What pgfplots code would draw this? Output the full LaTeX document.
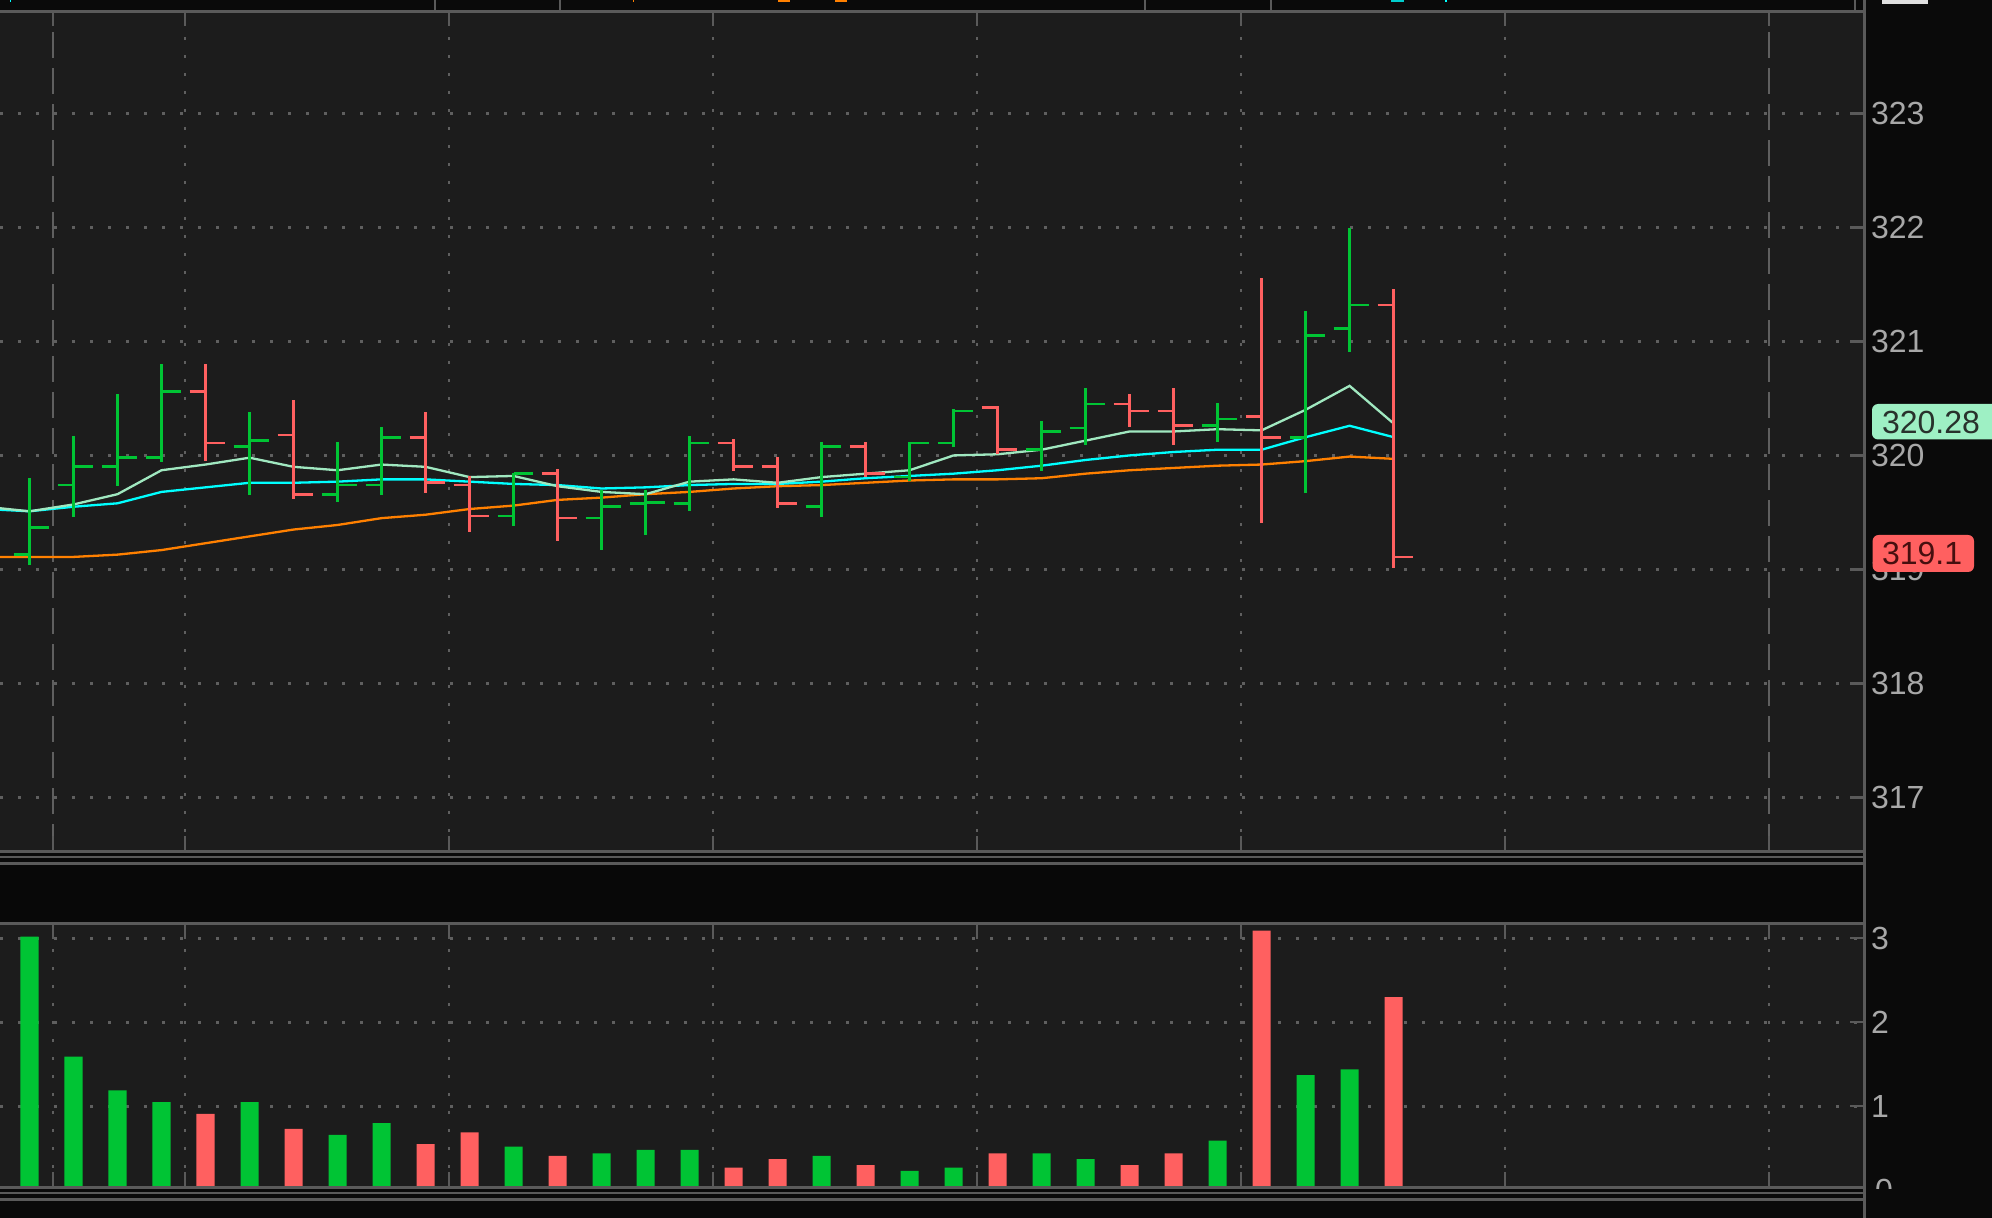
\documentclass[border=0pt]{standalone}
\usepackage{fontspec}
\setmainfont{Liberation Sans}
\usepackage{pgfplots}
\usepackage{pgfplotstable}
\pgfplotsset{compat=1.18}

\definecolor{outerbg}{RGB}{10,10,10}
\definecolor{stripbg}{RGB}{8,8,8}
\definecolor{plotbg}{RGB}{28,28,28}
\definecolor{bordc}{RGB}{90,90,90}
\definecolor{gridc}{RGB}{95,95,95}
\definecolor{upg}{RGB}{0,196,52}
\definecolor{dnr}{RGB}{255,96,96}
\definecolor{mintc}{RGB}{160,232,192}
\definecolor{cyanc}{RGB}{0,255,255}
\definecolor{orangec}{RGB}{255,128,0}
\definecolor{labelc}{RGB}{168,168,168}
\definecolor{mintbox}{RGB}{158,240,196}
\definecolor{redbox}{RGB}{255,96,96}
\definecolor{mintboxtext}{RGB}{40,50,44}
\definecolor{redboxtext}{RGB}{70,15,15}

\newcommand{\lblfont}{\fontsize{16}{19}\selectfont}

\pgfdeclareplotmark{ohlcopen}{\pgfpathmoveto{\pgfqpoint{-8pt}{0pt}}\pgfpathlineto{\pgfqpoint{0pt}{0pt}}\pgfusepathqstroke}
\pgfdeclareplotmark{ohlcclose}{\pgfpathmoveto{\pgfqpoint{0pt}{0pt}}\pgfpathlineto{\pgfqpoint{9.6pt}{0pt}}\pgfusepathqstroke}

% OHLC bars, x = bar index
\pgfplotstableread{
x o h l c
0 319.13 319.80 319.04 319.37
1 319.74 320.17 319.46 319.90
2 319.90 320.54 319.73 319.98
3 319.98 320.80 319.94 320.56
5 320.08 320.38 319.65 320.13
7 319.66 320.12 319.59 319.74
8 319.74 320.25 319.65 320.16
11 319.47 319.85 319.38 319.84
13 319.45 319.70 319.17 319.55
14 319.58 319.70 319.30 319.59
15 319.58 320.17 319.51 320.11
18 319.55 320.12 319.46 320.08
20 319.81 320.12 319.78 320.11
21 320.11 320.41 320.07 320.39
23 320.05 320.30 319.86 320.21
24 320.24 320.59 320.09 320.45
27 320.26 320.46 320.12 320.32
29 320.16 321.27 319.67 321.05
30 321.11 321.99 320.91 321.32
}\upbars

\pgfplotstableread{
x o h l c
-1 319.16 319.16 319.16 319.16
4 320.56 320.80 319.95 320.11
6 320.18 320.49 319.62 319.66
9 320.16 320.38 319.67 319.76
10 319.74 319.82 319.33 319.47
12 319.84 319.88 319.25 319.45
16 320.11 320.14 319.86 319.90
17 319.90 319.99 319.54 319.58
19 320.08 320.12 319.81 319.84
22 320.42 320.43 320.01 320.05
25 320.45 320.54 320.25 320.39
26 320.39 320.59 320.09 320.26
28 320.34 321.56 319.41 320.16
31 321.32 321.46 319.01 319.11
}\dnbars

\pgfplotstableread{
x v
0 3.02
1 1.59
2 1.19
3 1.05
5 1.05
7 0.66
8 0.80
11 0.52
13 0.44
14 0.48
15 0.48
18 0.41
20 0.23
21 0.27
23 0.44
24 0.37
27 0.59
29 1.37
30 1.44
}\upvol

\pgfplotstableread{
x v
4 0.91
6 0.73
9 0.55
10 0.69
12 0.41
16 0.27
17 0.37
19 0.30
22 0.44
25 0.30
26 0.44
28 3.09
31 2.30
}\dnvol

\pgfplotsset{
  panel/.style={
    scale only axis, width=932pt,
    xmin=-0.6705, xmax=41.69,
    axis background/.style={fill=plotbg},
    axis line style={draw=none},
    clip marker paths=true,
    ytick pos=right, yticklabel pos=right,
    tick align=inside, major tick length=7pt,
    tick style={draw=bordc, line width=1.2pt, solid},
    grid=major,
    major grid style={draw=gridc, line width=1.3pt, dash pattern=on 1.3pt off 7.7pt},
    yticklabel style={font=\lblfont, text=labelc},
    /pgf/number format/assume math mode=true,
  }
}

\begin{document}
\begin{tikzpicture}
\useasboundingbox (0,0) rectangle (996pt,-609pt);
\fill[outerbg] (0,0) rectangle (996pt,-609pt);

% ---------- price panel ----------
\begin{axis}[panel,
  at={(0pt,-6.25pt)}, anchor=north west,
  height=418.75pt,
  ymin=316.54, ymax=323.884,
  xtick={3.53,9.53,15.53,21.53,27.53,33.53}, xticklabels={},
  extra x ticks={0.53,39.53}, extra x tick labels={},
  extra x tick style={major grid style={draw=gridc, line width=1.3pt, dash pattern=on 13pt off 5pt}},
  ytick={317,318,319,320,321,322,323},
]
% moving averages
\addplot[orangec, line width=1.15pt, mark=none] coordinates {
(-1,319.11) (0,319.11) (1,319.11) (2,319.13) (3,319.17) (4,319.23) (5,319.29) (6,319.35)
(7,319.39) (8,319.45) (9,319.48) (10,319.53) (11,319.56) (12,319.61) (13,319.63) (14,319.66)
(15,319.68) (16,319.71) (17,319.73) (18,319.74) (19,319.76) (20,319.78) (21,319.79) (22,319.79)
(23,319.80) (24,319.84) (25,319.87) (26,319.89) (27,319.91) (28,319.92) (29,319.95) (30,319.99) (31,319.97)};
\addplot[cyanc, line width=1.15pt, mark=none] coordinates {
(-1,319.53) (0,319.51) (1,319.55) (2,319.58) (3,319.68) (4,319.72) (5,319.76) (6,319.76)
(7,319.77) (8,319.79) (9,319.79) (10,319.77) (11,319.75) (12,319.74) (13,319.71) (14,319.72)
(15,319.74) (16,319.75) (17,319.75) (18,319.77) (19,319.80) (20,319.82) (21,319.84) (22,319.87)
(23,319.91) (24,319.96) (25,320.00) (26,320.03) (27,320.05) (28,320.05) (29,320.16) (30,320.26) (31,320.16)};
\addplot[mintc, line width=1.15pt, mark=none] coordinates {
(-1,319.55) (0,319.51) (1,319.57) (2,319.66) (3,319.87) (4,319.92) (5,319.98) (6,319.90)
(7,319.87) (8,319.92) (9,319.90) (10,319.81) (11,319.82) (12,319.73) (13,319.68) (14,319.66)
(15,319.77) (16,319.79) (17,319.76) (18,319.81) (19,319.84) (20,319.87) (21,320.00) (22,320.01)
(23,320.05) (24,320.13) (25,320.21) (26,320.21) (27,320.23) (28,320.22) (29,320.40) (30,320.61) (31,320.28)};
% OHLC up bars
\addplot[only marks, color=upg, mark=ohlcopen, mark options={line width=1.35pt, solid},
  error bars/.cd, y dir=both, y explicit, error mark=none,
  error bar style={line width=1.15pt, color=upg, solid}]
  table[x=x, y=o, y error plus expr=\thisrow{h}-\thisrow{o}, y error minus expr=\thisrow{o}-\thisrow{l}] {\upbars};
\addplot[only marks, color=upg, mark=ohlcclose, mark options={line width=1.35pt, solid}]
  table[x=x, y=c] {\upbars};
% OHLC down bars
\addplot[only marks, color=dnr, mark=ohlcopen, mark options={line width=1.35pt, solid},
  error bars/.cd, y dir=both, y explicit, error mark=none,
  error bar style={line width=1.15pt, color=dnr, solid}]
  table[x=x, y=o, y error plus expr=\thisrow{h}-\thisrow{o}, y error minus expr=\thisrow{o}-\thisrow{l}] {\dnbars};
\addplot[only marks, color=dnr, mark=ohlcclose, mark options={line width=1.35pt, solid}]
  table[x=x, y=c] {\dnbars};
\end{axis}

% ---------- volume panel ----------
\begin{axis}[panel,
  at={(0pt,-462.25pt)}, anchor=north west,
  height=130.75pt,
  ymin=0.051, ymax=3.164,
  xtick={0.53,3.53,9.53,15.53,21.53,27.53,33.53,39.53}, xticklabels={},
  ytick={1,2,3},
]
\addplot[ybar, bar width=0.41, bar shift=0pt, fill=upg, draw=none] table[x=x, y=v] {\upvol};
\addplot[ybar, bar width=0.41, bar shift=0pt, fill=dnr, draw=none] table[x=x, y=v] {\dnvol};
\end{axis}

% volume "0" label, partly hidden by the strip below
\node[anchor=west, text=labelc, font=\lblfont, inner sep=5.33pt] at (932pt,-595.15pt) {0};

% ---------- frames and strips ----------
\fill[stripbg] (0,-432.4pt) rectangle (932.25pt,-461pt);
\fill[outerbg] (0,-594.4pt) rectangle (996pt,-609pt);
\fill[outerbg] (0,0) rectangle (996pt,-5pt);
\begin{scope}[draw=bordc]
  \draw[line width=1.35pt] (0,-5.675pt) -- (933pt,-5.675pt);
  \draw[line width=1.35pt] (0,-425.65pt) -- (933pt,-425.65pt);
  \draw[line width=1pt] (0,-428.5pt) -- (932pt,-428.5pt);
  \draw[line width=1.35pt] (0,-431.65pt) -- (933pt,-431.65pt);
  \draw[line width=1.35pt] (0,-461.65pt) -- (933pt,-461.65pt);
  \draw[line width=1.35pt] (0,-593.65pt) -- (933pt,-593.65pt);
  \draw[line width=1pt] (0,-596.5pt) -- (932pt,-596.5pt);
  \draw[line width=1.35pt] (0,-599.65pt) -- (933pt,-599.65pt);
  \draw[line width=1.5pt] (932.25pt,0) -- (932.25pt,-609pt);
  % separators in the top legend strip
  \draw[line width=1pt] (217.3pt,0) -- (217.3pt,-5pt);
  \draw[line width=1pt] (280.2pt,0) -- (280.2pt,-5pt);
  \draw[line width=1pt] (572.5pt,0) -- (572.5pt,-5pt);
  \draw[line width=1pt] (635.3pt,0) -- (635.3pt,-5pt);
  \draw[line width=1pt] (927.5pt,0) -- (927.5pt,-5pt);
\end{scope}
% cut-off legend glyphs at the very top
\fill[orangec] (316.3pt,0) rectangle (317pt,-0.8pt);
\fill[orangec] (389pt,0) rectangle (395pt,-0.8pt);
\fill[orangec] (417.5pt,0) rectangle (423.5pt,-0.8pt);
\fill[cyanc!80!black] (695.5pt,0) rectangle (702pt,-0.8pt);
\fill[cyanc] (722.5pt,0) rectangle (723.5pt,-0.8pt);
\fill[cyanc] (5pt,0) rectangle (5.6pt,-0.8pt);
\fill[white!88!black] (941pt,0) rectangle (964pt,-2pt);

% ---------- last-value labels ----------
\fill[mintbox, rounded corners=3pt] (936pt,-202pt) rectangle (1004pt,-219.75pt);
\node[anchor=west, inner sep=0pt, font=\lblfont, text=mintboxtext] at (940.8pt,-211pt) {320.28};
\fill[redbox, rounded corners=3pt] (936.3pt,-267.5pt) rectangle (987pt,-286pt);
\node[anchor=west, inner sep=0pt, font=\lblfont, text=redboxtext] at (940.8pt,-276.75pt) {319.1};
\end{tikzpicture}
\end{document}
